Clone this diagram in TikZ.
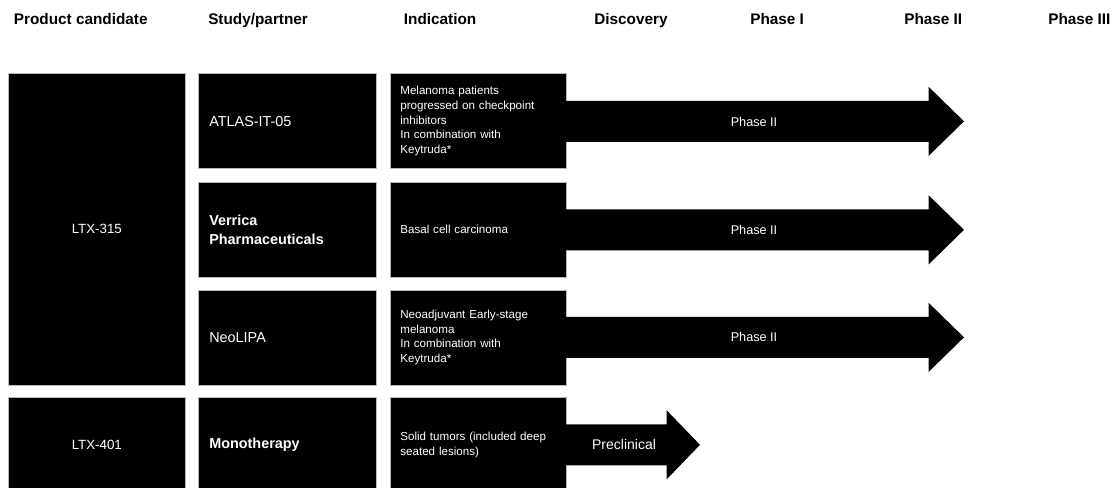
\documentclass[tikz,border=0pt]{standalone}
\usepackage{fontspec}
\setmainfont{Liberation Sans}
\begin{document}
\begin{tikzpicture}[x=0.75pt,y=-0.75pt,
  hdr/.style={anchor=base west, inner sep=0pt, font=\fontsize{11.5}{13}\selectfont\bfseries},
  blk/.style={fill=black, draw=gray!55, line width=0.5pt, anchor=north west, inner sep=0pt, text=white, minimum height=71.25pt},
  prod/.style={blk, minimum width=132.75pt, align=center, font=\fontsize{10}{12}\selectfont},
  study/.style={blk, text width=117pt, inner xsep=8pt, align=left, font=\fontsize{10.8}{14.3}\selectfont},
  ind/.style={blk, text width=117pt, inner xsep=7.5pt, align=left, font=\fontsize{8.7}{11}\selectfont},
  arrowfill/.style={fill=black},
  lbl/.style={text=white, inner sep=0pt, font=\fontsize{9.5}{11}\selectfont}
]
\path[use as bounding box] (0,0) rectangle (1112,488);
\clip (0,0) rectangle (1112,488);

% headers
\node[hdr] (hProd) at (13.6,25) {Product candidate};
\node[hdr] (hStudy) at (208,25) {Study/partner};
\node[hdr] (hInd) at (403.6,25) {Indication};
\node[hdr] (hDisc) at (594,25) {Discovery};
\node[hdr] (hP1) at (750,25) {Phase I};
\node[hdr] (hP2) at (904,25) {Phase II};
\node[hdr] (hP3) at (1048,25) {Phase III};

% product candidates
\node[prod, minimum height=233.25pt] (ltx315) at (8,73.5) {LTX-315};
\node[prod] (ltx401) at (8,397) {LTX-401};

% study / partner
\node[study] (st1) at (198.3,73.5) {ATLAS-IT-05};
\node[study, font=\fontsize{10.8}{14.3}\selectfont\bfseries] (st2) at (198.3,182) {Verrica\\Pharmaceuticals};
\node[study] (st3) at (198.3,289.5) {NeoLIPA};
\node[study, font=\fontsize{10.8}{14.3}\selectfont\bfseries] (st4) at (198.3,397) {Monotherapy};

% indications
\node[ind] (ind1) at (390,73.5) {Melanoma patients\\progressed on checkpoint\\inhibitors\\In combination with\\Keytruda*};
\node[ind] (ind2) at (390,182) {Basal cell carcinoma};
\node[ind] (ind3) at (390,289.5) {Neoadjuvant Early-stage\\melanoma\\In combination with\\Keytruda*};
\node[ind] (ind4) at (390,397) {Solid tumors (included deep\\seated lesions)};

% progress arrows
\foreach \r in {ind1,ind2,ind3}{
  \fill[arrowfill] (\r.east) ++(-1,-20.5) -- ++(363,0) -- ++(0,-14) -- ++(35.3,34.5)
    -- ++(-35.3,34.5) -- ++(0,-14) -- ++(-363,0) -- cycle;
}
\fill[arrowfill] (ind4.east) ++(-1,-20.5) -- ++(101,0) -- ++(0,-14) -- ++(33.3,34.5)
    -- ++(-33.3,34.5) -- ++(0,-14) -- ++(-101,0) -- cycle;

\node[lbl] (ph1) at (754,121.5) {Phase II};
\node[lbl] (ph2) at (754,229.5) {Phase II};
\node[lbl] (ph3) at (754,337) {Phase II};
\node[lbl, font=\fontsize{10.5}{12}\selectfont] (pre) at (624,444.5) {Preclinical};
\end{tikzpicture}
\end{document}
